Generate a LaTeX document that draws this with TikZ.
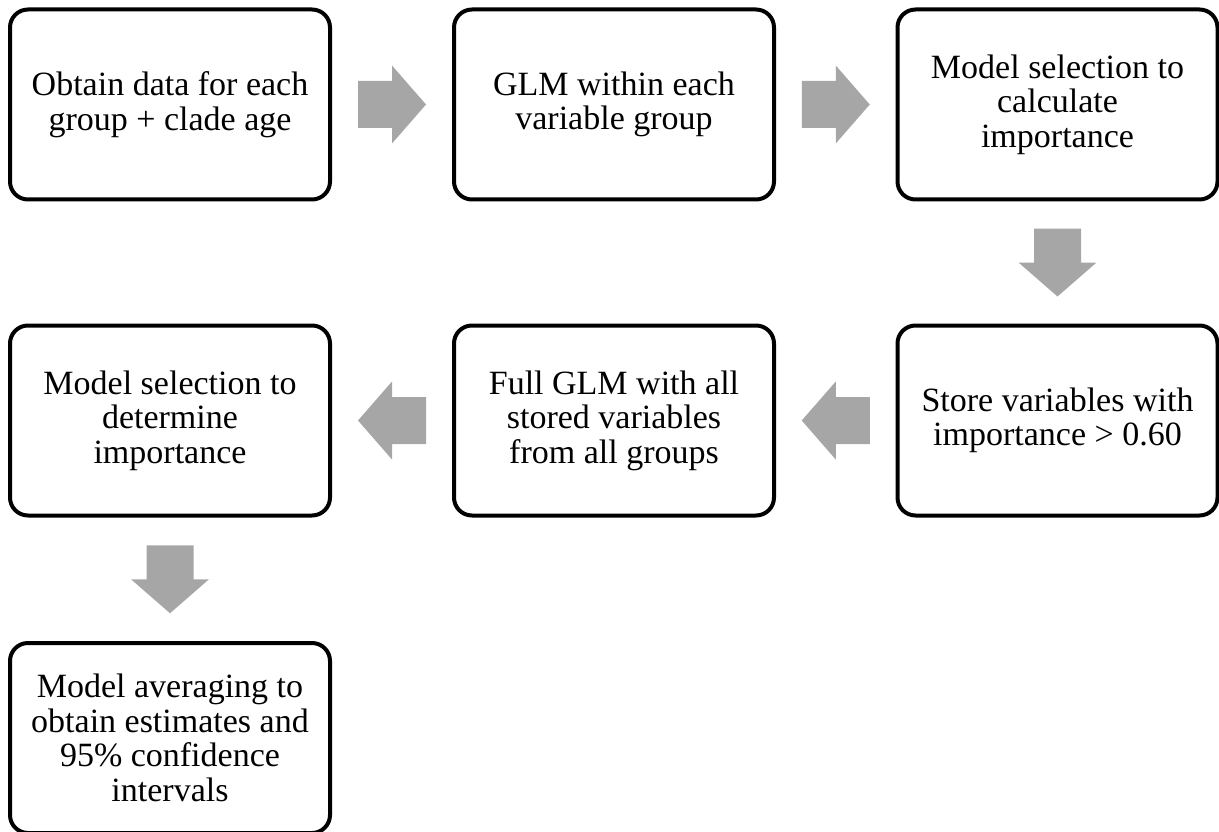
\documentclass[tikz,border=0pt]{standalone}
\usepackage{fontspec}
\setmainfont{Liberation Serif}
\usetikzlibrary{calc}
\definecolor{arrowgray}{HTML}{A6A6A6}
\tikzset{
stage/.style={draw, rounded corners=18pt, line width=4pt,
  minimum width=320pt, minimum height=190pt, inner sep=0pt,
  align=center, font={\fontsize{34}{34.5}\selectfont}},
flowarrow/.pic={
  \fill[arrowgray] (-34,-23.5) -- (0,-23.5) -- (0,-39) -- (34,0)
    -- (0,39) -- (0,23.5) -- (-34,23.5) -- cycle;
},
}
\begin{document}
\begin{tikzpicture}[x=1pt,y=1pt]
		\useasboundingbox (0,0) rectangle (1219,-832);
		\coordinate (S1) at (170,-104.5);
		\coordinate (S2) at (614,-104.5);
		\coordinate (S3) at (1057.5,-104.5);
		\coordinate (S4) at (1057.5,-420.5);
		\coordinate (S5) at (614,-420.5);
		\coordinate (S6) at (170,-420.5);
		\coordinate (S7) at (170,-738);

		\node [stage] (obtain) at (S1) {Obtain data for each\\group + clade age};
		\node [stage] (glm) at (S2) {GLM within each\\variable group};
		\node [stage] (calc) at (S3) {Model selection to\\calculate\\importance};
		\node [stage] (store) at (S4) {Store variables with\\importance > 0.60};
		\node [stage] (full) at (S5) {Full GLM with all\\stored variables\\from all groups};
		\node [stage] (determine) at (S6) {Model selection to\\determine\\importance};
		\node [stage] (averaging) at (S7) {Model averaging to\\obtain estimates and\\95\% confidence\\intervals};

		% block arrows halfway between the boxes
		\pic at ($(obtain.east)!.5!(glm.west)$) {flowarrow};
		\pic at ($(glm.east)!.5!(calc.west)$) {flowarrow};
		\pic [rotate=-90] at ($(calc.south)!.5!(store.north)$) {flowarrow};
		\pic [rotate=180] at ($(store.west)!.5!(full.east)$) {flowarrow};
		\pic [rotate=180] at ($(full.west)!.5!(determine.east)$) {flowarrow};
		\pic [rotate=-90] at ($(determine.south)!.5!(averaging.north)$) {flowarrow};
	\end{tikzpicture}
\end{document}
